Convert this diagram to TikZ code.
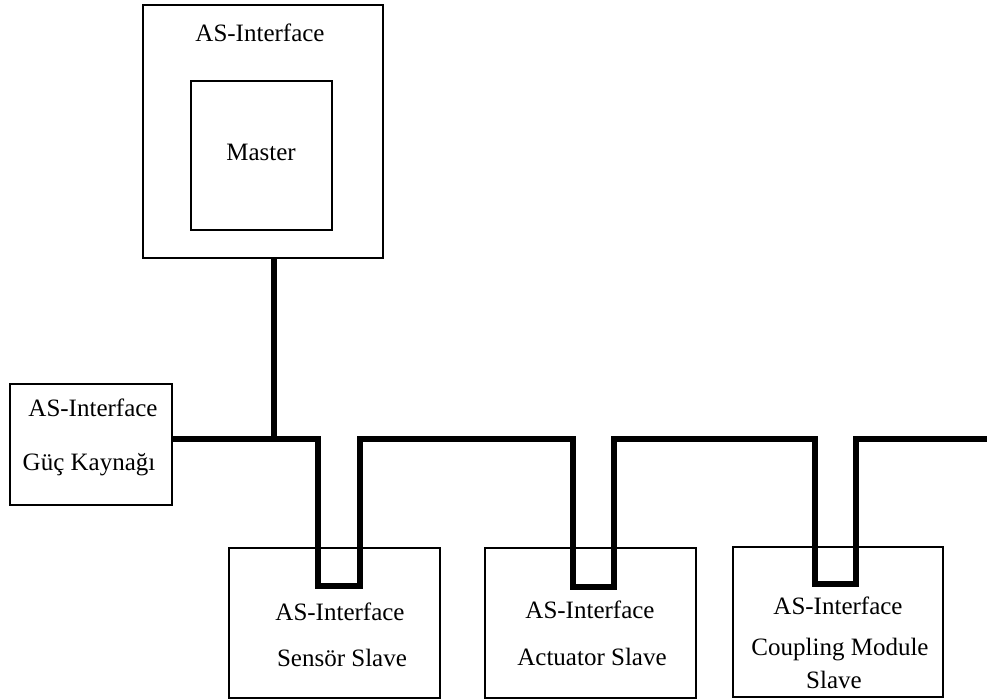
\documentclass[tikz,border=0pt]{standalone}
\usepackage{fontspec}
\setmainfont{Liberation Serif}
\begin{document}
\begin{tikzpicture}[x=1pt,y=-1pt,
  box/.style={draw, line width=1.3pt, inner sep=0pt},
  lbl/.style={inner sep=0pt, font=\fontsize{25}{29}\selectfont},
  bus/.style={line width=6.5pt, line join=miter, line cap=butt}]
\useasboundingbox (0,0) rectangle (987,700);
\fill[white] (0,0) rectangle (987,700);

% master unit
\node[box, minimum width=240pt, minimum height=253pt] (asi) at (263,131.5) {};
\node[box, minimum width=141pt, minimum height=149pt] (master) at (261.5,155.5) {};
\node[lbl] (asiT) at (260,33) {AS-Interface};
\node[lbl] (masterT) at (261,152) {Master};

% power supply
\node[box, minimum width=162pt, minimum height=121pt] (power) at (91,444.5) {};
\node[lbl] (powerT1) at (93,408) {AS-Interface};
\node[lbl] (powerT2) at (89,465) {Güç Kaynağı};

% slaves
\node[box, minimum width=211pt, minimum height=150pt] (sensor) at (334.5,623) {};
\node[lbl] (sensorT1) at (340,612) {AS-Interface};
\node[lbl] (sensorT2) at (342,658) {Sensör Slave};

\node[box, minimum width=211pt, minimum height=150pt] (actuator) at (590.5,623) {};
\node[lbl] (actT1) at (590,610) {AS-Interface};
\node[lbl] (actT2) at (592,657) {Actuator Slave};

\node[box, minimum width=210pt, minimum height=150pt] (coupling) at (838,622) {};
\node[lbl] (coupT1) at (838,606) {AS-Interface};
\node[lbl] (coupT2) at (840,650) {Coupling Module};
\node[lbl] (coupT3) at (834,680) {Slave};

% bus line
\coordinate (tap) at (274,439);
\coordinate (busend) at (987,439);
\draw[bus] (power.east |- tap) -- (318,439) -- (318,586) -- (360,586) -- (360,439)
  -- (573,439) -- (573,587) -- (614,587) -- (614,439)
  -- (815,439) -- (815,584) -- (856,584) -- (856,439) -- (busend);
\draw[bus] (asi.south -| tap) -- (tap);
\end{tikzpicture}
\end{document}
